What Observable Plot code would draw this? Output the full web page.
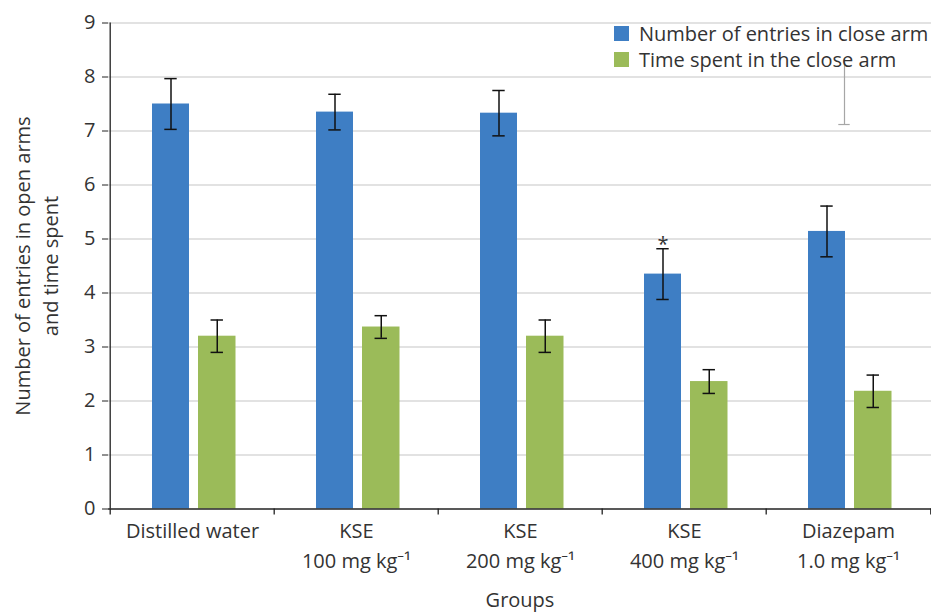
<!DOCTYPE html>
<html><head><meta charset="utf-8">
<script src="https://cdn.jsdelivr.net/npm/d3@7"></script>
<script src="https://cdn.jsdelivr.net/npm/@observablehq/plot@0.6"></script>
<style>
body{margin:0;background:#fff;font-family:"Open Sans","Noto Sans",sans-serif;}
#wrap{position:relative;width:931px;height:613px;}
.legend{position:absolute;left:614px;top:20.5px;font-size:20px;color:#333;}
.legend .row{display:flex;align-items:center;height:26px;white-space:nowrap;}
.legend .sw{width:15px;height:15px;margin-right:10px;flex:none;}
</style></head><body><div id="wrap"></div>
<script>
// ---- data ----
const groups = ["Distilled water","KSE 100","KSE 200","KSE 400","Diazepam"];
const labelLine1 = ["Distilled water","KSE","KSE","KSE","Diazepam"];
const labelLine2 = ["","100 mg kg\u207B\u00B9","200 mg kg\u207B\u00B9","400 mg kg\u207B\u00B9","1.0 mg kg\u207B\u00B9"];
const series = ["Number of entries in close arm","Time spent in the close arm"];
const seriesColors = ["#3e7ec4","#9bbb59"];
const entries = [7.50,7.35,7.33,4.35,5.14];
const entriesErr = [0.47,0.33,0.42,0.47,0.47];
const timeSpent = [3.20,3.37,3.20,2.36,2.18];
const timeErr = [0.30,0.21,0.30,0.22,0.30];
const significance = ["","","","*",""];
const strayBar = [{group:"Diazepam", low:7.12, high:8.33}];
const yTicks = [0,1,2,3,4,5,6,7,8,9];
const yTitle = "Number of entries in open arms\nand time spent";
const xTitle = "Groups";

// ---- layout ----
const W = 931, H = 613, ML = 108, MR = 0, MT = 22.5, MB = 104.5;
const BW = (W - ML - MR) / groups.length;
const blue = {l: 42, r: 79.6}, green = {l: 88, r: 126.1};
const bc = (blue.l + blue.r) / 2, gc = (green.l + green.r) / 2;
const cap = 6.5, ink = "#333", axisInk = "#222", FS = 20;

const rows = groups.map((g, i) => ({
  group: g, entries: entries[i], eErr: entriesErr[i],
  time: timeSpent[i], tErr: timeErr[i], sig: significance[i],
  l1: labelLine1[i], l2: labelLine2[i]
}));

const errMarks = (key, errKey, c) => [
  Plot.ruleX(rows, {x: "group", y1: d => d[key] - d[errKey], y2: d => d[key] + d[errKey], dx: c - BW/2, stroke: "#111", strokeWidth: 1.5}),
  Plot.tickY(rows, {x: "group", y: d => d[key] + d[errKey], insetLeft: c - cap, insetRight: BW - c - cap, stroke: "#111", strokeWidth: 1.5}),
  Plot.tickY(rows, {x: "group", y: d => d[key] - d[errKey], insetLeft: c - cap, insetRight: BW - c - cap, stroke: "#111", strokeWidth: 1.5})
];

const chart = Plot.plot({
  width: W, height: H,
  marginLeft: ML, marginRight: MR, marginTop: MT, marginBottom: MB,
  style: {fontFamily: "'Open Sans','Noto Sans',sans-serif", fontSize: FS + "px", color: ink, background: "#fff", overflow: "visible"},
  x: {domain: groups, padding: 0, axis: null},
  y: {domain: [0, 9], axis: null},
  marks: [
    Plot.ruleY(yTicks.slice(1), {stroke: "#d9d9d9", strokeWidth: 1.3}),
    Plot.barY(rows, {x: "group", y: "entries", fill: seriesColors[0], insetLeft: blue.l, insetRight: BW - blue.r}),
    Plot.barY(rows, {x: "group", y: "time", fill: seriesColors[1], insetLeft: green.l, insetRight: BW - green.r}),
    ...errMarks("entries", "eErr", bc),
    ...errMarks("time", "tErr", gc),
    Plot.text(rows, {x: "group", y: d => d.entries + d.eErr, text: "sig", dx: bc - BW/2, dy: -4, fontSize: FS, fill: ink}),
    Plot.ruleX(strayBar, {x: "group", y1: "low", y2: "high", dx: -4, stroke: "#a6a6a6", strokeWidth: 1.2}),
    Plot.tickY(strayBar, {x: "group", y: "low", insetLeft: BW/2 - 4 - 6, insetRight: BW/2 + 4 - 6, stroke: "#a6a6a6", strokeWidth: 1.2}),
    // axes
    Plot.ruleY([0], {stroke: axisInk, strokeWidth: 1.3}),
    Plot.ruleX([groups[0]], {x: d => d, y1: 0, y2: 9, dx: -BW/2, stroke: axisInk, strokeWidth: 1.3}),
    Plot.ruleX(groups, {x: d => d, y1: 0, y2: -0.11, dx: -BW/2, stroke: axisInk, strokeWidth: 1.3}),
    Plot.ruleX([groups[groups.length - 1]], {x: d => d, y1: 0, y2: -0.11, dx: BW/2, stroke: axisInk, strokeWidth: 1.3}),
    Plot.axisY({ticks: yTicks, tickSize: 6, tickPadding: 7, label: null, stroke: axisInk, fill: ink, fontSize: FS, tickFormat: d => d}),
    Plot.text(rows, {x: "group", y: 0, text: "l1", dy: 22.5, lineAnchor: "middle", fontSize: FS, fill: ink}),
    Plot.text(rows, {x: "group", y: 0, text: "l2", dy: 52.5, lineAnchor: "middle", fontSize: FS, fill: ink}),
    Plot.text([xTitle], {text: d => d, frameAnchor: "bottom", dy: 92, textAnchor: "middle", lineAnchor: "middle", fontSize: FS, fill: ink}),
    Plot.text([yTitle], {text: d => d, frameAnchor: "left", rotate: -90, dx: -73, textAnchor: "middle", lineAnchor: "middle", lineHeight: 1.4, fontSize: FS, fill: ink})
  ]
});

const wrap = document.getElementById("wrap");
wrap.appendChild(chart);
const legend = document.createElement("div");
legend.className = "legend";
series.forEach((s, i) => {
  const row = document.createElement("div");
  row.className = "row";
  const sw = document.createElement("span");
  sw.className = "sw";
  sw.style.background = seriesColors[i];
  const t = document.createElement("span");
  t.textContent = s;
  row.appendChild(sw); row.appendChild(t);
  legend.appendChild(row);
});
wrap.appendChild(legend);
</script></body></html>
